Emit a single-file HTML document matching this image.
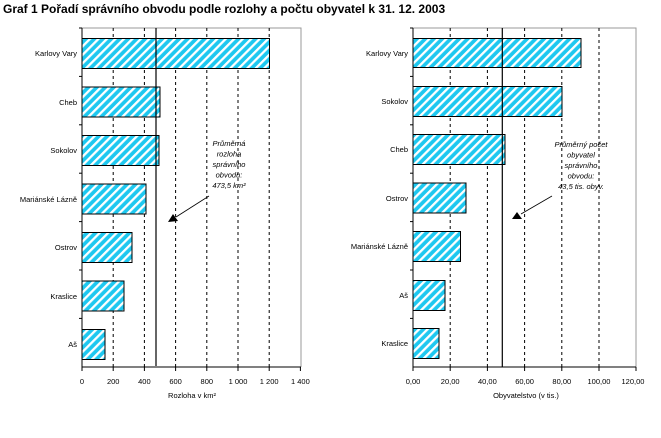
<!DOCTYPE html>
<html><head><meta charset="utf-8"><style>
body{margin:0;background:#fff;width:661px;height:433px;overflow:hidden}
text{font-family:"Liberation Sans",sans-serif;fill:#000}
</style></head><body>
<svg width="661" height="433" viewBox="0 0 661 433" xmlns="http://www.w3.org/2000/svg">
<defs>
<pattern id="h" patternUnits="userSpaceOnUse" width="6" height="6" patternTransform="rotate(45)">
<rect width="6" height="6" fill="#1ec8f0"/><rect x="0" y="0" width="2.3" height="6" fill="#fff"/>
</pattern>
</defs>
<text x="3" y="13" font-size="12" font-weight="bold">Graf 1  Pořadí správního obvodu podle rozlohy a počtu obyvatel k 31. 12. 2003</text>

<!-- LEFT CHART -->
<polyline points="82,28 301,28 301,367" fill="none" stroke="#999" stroke-width="1"/>
<g stroke="#000" stroke-dasharray="3,3" stroke-width="1">
<line x1="113.2" y1="28" x2="113.2" y2="367"/><line x1="144.4" y1="28" x2="144.4" y2="367"/>
<line x1="175.6" y1="28" x2="175.6" y2="367"/><line x1="206.8" y1="28" x2="206.8" y2="367"/>
<line x1="238" y1="28" x2="238" y2="367"/><line x1="269.2" y1="28" x2="269.2" y2="367"/>
</g>
<g stroke="#000" stroke-width="1" fill="url(#h)">
<rect x="82" y="38.5" width="187.5" height="30"/>
<rect x="82" y="87" width="78" height="30"/>
<rect x="82" y="135.5" width="77" height="30"/>
<rect x="82" y="184" width="64" height="30"/>
<rect x="82" y="232.5" width="50" height="30"/>
<rect x="82" y="281" width="42" height="30"/>
<rect x="82" y="329.5" width="23" height="30"/>
</g>
<line x1="156" y1="28" x2="156" y2="366" stroke="#000" stroke-width="1.2"/>
<line x1="82" y1="28" x2="82" y2="367" stroke="#000"/>
<line x1="82" y1="367" x2="301" y2="367" stroke="#000"/>
<g stroke="#000">
<line x1="79" y1="28" x2="82" y2="28"/><line x1="79" y1="76.4" x2="82" y2="76.4"/><line x1="79" y1="124.8" x2="82" y2="124.8"/><line x1="79" y1="173.2" x2="82" y2="173.2"/><line x1="79" y1="221.6" x2="82" y2="221.6"/><line x1="79" y1="270" x2="82" y2="270"/><line x1="79" y1="318.4" x2="82" y2="318.4"/>
<line x1="82" y1="367" x2="82" y2="371"/><line x1="113.2" y1="367" x2="113.2" y2="371"/><line x1="144.4" y1="367" x2="144.4" y2="371"/><line x1="175.6" y1="367" x2="175.6" y2="371"/><line x1="206.8" y1="367" x2="206.8" y2="371"/><line x1="238" y1="367" x2="238" y2="371"/><line x1="269.2" y1="367" x2="269.2" y2="371"/><line x1="300.4" y1="367" x2="300.4" y2="371"/>
</g>
<g font-size="7.5" text-anchor="end">
<text x="77" y="56">Karlovy Vary</text><text x="77" y="105">Cheb</text><text x="77" y="153">Sokolov</text><text x="77" y="202">Mariánské Lázně</text><text x="77" y="250">Ostrov</text><text x="77" y="299">Kraslice</text><text x="77" y="347">Aš</text>
</g>
<g font-size="7.5" text-anchor="middle">
<text x="82" y="384">0</text><text x="113.2" y="384">200</text><text x="144.4" y="384">400</text><text x="175.6" y="384">600</text><text x="206.8" y="384">800</text><text x="238" y="384">1 000</text><text x="269.2" y="384">1 200</text><text x="300.4" y="384">1 400</text>
<text x="192" y="398">Rozloha v km²</text>
</g>
<g font-size="7.5" font-style="italic" text-anchor="middle">
<text x="229" y="146">Průměrná</text><text x="229" y="156.5">rozloha</text><text x="229" y="167">správního</text><text x="229" y="177.5">obvodu:</text><text x="229" y="188">473,5 km²</text>
</g>
<line x1="209" y1="196" x2="176" y2="217" stroke="#000" stroke-width="0.8"/>
<polygon points="168,222 173,214 178,221" fill="#000"/>

<!-- RIGHT CHART -->
<polyline points="413,28 636,28 636,367" fill="none" stroke="#999" stroke-width="1"/>
<g stroke="#000" stroke-dasharray="3,3" stroke-width="1">
<line x1="450.2" y1="28" x2="450.2" y2="367"/><line x1="487.4" y1="28" x2="487.4" y2="367"/>
<line x1="524.6" y1="28" x2="524.6" y2="367"/><line x1="561.8" y1="28" x2="561.8" y2="367"/>
<line x1="599" y1="28" x2="599" y2="367"/>
</g>
<g stroke="#000" stroke-width="1" fill="url(#h)">
<rect x="413" y="38.5" width="168" height="29"/>
<rect x="413" y="86.5" width="149" height="30"/>
<rect x="413" y="134.5" width="92" height="30"/>
<rect x="413" y="183" width="53" height="30"/>
<rect x="413" y="231.5" width="47.5" height="30"/>
<rect x="413" y="280.5" width="32" height="30"/>
<rect x="413" y="328.5" width="26" height="30"/>
</g>
<line x1="502.3" y1="28" x2="502.3" y2="367" stroke="#000" stroke-width="1.2"/>
<line x1="413" y1="28" x2="413" y2="367" stroke="#000"/>
<line x1="413" y1="367" x2="636" y2="367" stroke="#000"/>
<g stroke="#000">
<line x1="410" y1="28" x2="413" y2="28"/><line x1="410" y1="76.4" x2="413" y2="76.4"/><line x1="410" y1="124.8" x2="413" y2="124.8"/><line x1="410" y1="173.2" x2="413" y2="173.2"/><line x1="410" y1="221.6" x2="413" y2="221.6"/><line x1="410" y1="270" x2="413" y2="270"/><line x1="410" y1="318.4" x2="413" y2="318.4"/>
<line x1="413" y1="367" x2="413" y2="371"/><line x1="450.2" y1="367" x2="450.2" y2="371"/><line x1="487.4" y1="367" x2="487.4" y2="371"/><line x1="524.6" y1="367" x2="524.6" y2="371"/><line x1="561.8" y1="367" x2="561.8" y2="371"/><line x1="599" y1="367" x2="599" y2="371"/><line x1="636" y1="367" x2="636" y2="371"/>
</g>
<g font-size="7.5" text-anchor="end">
<text x="408" y="56">Karlovy Vary</text><text x="408" y="104">Sokolov</text><text x="408" y="152">Cheb</text><text x="408" y="201">Ostrov</text><text x="408" y="249">Mariánské Lázně</text><text x="408" y="298">Aš</text><text x="408" y="346">Kraslice</text>
</g>
<g font-size="7.5" text-anchor="middle">
<text x="413" y="384">0,00</text><text x="450.2" y="384">20,00</text><text x="487.4" y="384">40,00</text><text x="524.6" y="384">60,00</text><text x="561.8" y="384">80,00</text><text x="599" y="384">100,00</text><text x="633" y="384">120,00</text>
<text x="526" y="398">Obyvatelstvo (v tis.)</text>
</g>
<g font-size="7.5" font-style="italic" text-anchor="middle">
<text x="581" y="147">Průměrný počet</text><text x="581" y="157.5">obyvatel</text><text x="581" y="168">správního</text><text x="581" y="178.5">obvodu:</text><text x="581" y="189">43,5 tis. obyv.</text>
</g>
<line x1="552" y1="196" x2="521" y2="214" stroke="#000" stroke-width="0.8"/>
<polygon points="512,219 517,212 522,219" fill="#000"/>
</svg>
</body></html>
